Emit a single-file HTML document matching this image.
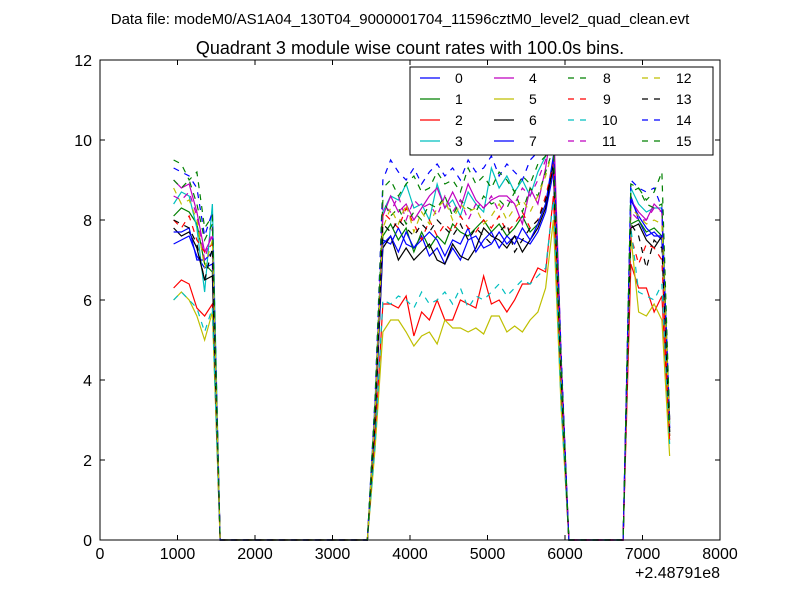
<!DOCTYPE html>
<html><head><meta charset="utf-8"><style>
body{margin:0;background:#fff;}
svg text{font-family:"Liberation Sans","DejaVu Sans",sans-serif;}
</style></head><body>
<svg id="chart" width="800" height="600" xmlns="http://www.w3.org/2000/svg">
<rect x="0" y="0" width="800" height="600" fill="#fff"/>
<text x="400" y="24" font-size="15" text-anchor="middle">Data file: modeM0/AS1A04_130T04_9000001704_11596cztM0_level2_quad_clean.evt</text>
<text x="410" y="54" font-size="18" text-anchor="middle">Quadrant 3 module wise count rates with 100.0s bins.</text>
<g id="series"></g>
<g id="axes"></g>
<text x="720" y="578" font-size="16" text-anchor="end">+2.48791e8</text>
<g id="legend"></g>
</svg>
<script>
const times = [950,1050,1150,1250,1350,1450,1550,1650,1750,1850,1950,2050,2150,2250,2350,2450,2550,2650,2750,2850,2950,3050,3150,3250,3350,3450,3550,3650,3750,3850,3950,4050,4150,4250,4350,4450,4550,4650,4750,4850,4950,5050,5150,5250,5350,5450,5550,5650,5750,5850,5950,6050,6150,6250,6350,6450,6550,6650,6750,6850,6950,7050,7150,7250,7350];
const seriesNames = ["0","1","2","3","4","5","6","7","8","9","10","11","12","13","14","15"];
const segA = [
[7.4,7.5,7.6,7.1,6.8,6.9],[8.1,8.3,8.2,7.9,6.9,6.7],[6.3,6.5,6.4,5.8,5.6,5.9],[8.4,8.7,8.6,7.8,6.2,8.4],
[9.0,8.8,8.9,8.2,7.2,7.6],[6.0,6.2,6.0,5.6,5.0,5.7],[7.8,7.6,7.7,7.3,6.5,6.6],[7.7,7.7,7.8,7.0,7.0,7.2],
[9.0,8.8,9.0,8.4,7.5,7.9],[8.0,7.8,8.1,7.5,7.2,7.4],[6.0,6.2,6.0,5.8,5.2,5.8],[8.6,8.5,8.7,8.1,7.0,7.8],
[8.8,8.4,8.5,8.0,6.8,7.5],[8.0,7.9,7.8,7.4,6.5,7.3],[9.3,9.2,9.1,8.8,7.6,8.2],[9.5,9.4,9.0,9.2,7.8,8.1]];
const gapA = [0,0,0,0,0,0,0,0,0,0,0,0,0,0,0,0,0,0,0,0];
const rise = [3.0,3.2,2.5,3.5,3.4,2.3,3.0,3.1,3.3,3.0,2.4,3.3,3.2,3.0,3.6,3.5];
const mid = [
[7.5,7.4,7.8,7.4,7.3,7.6,7.1,7.3,6.9,7.3,7.0,7.5,7.6,7.3,7.4,7.7,7.4,7.6,7.5,7.4,7.7,8.2,9.2],
[7.6,7.9,7.5,7.8,7.2,7.7,7.3,7.6,7.4,7.9,7.7,7.6,7.8,8.0,7.7,7.9,7.6,7.8,8.1,7.7,7.9,8.4,9.5],
[5.9,5.9,5.8,6.1,5.1,5.7,5.5,6.0,5.5,5.5,6.0,5.9,5.8,6.6,5.9,6.0,5.7,6.0,6.4,6.4,6.8,6.7,8.6],
[8.2,8.6,8.5,8.9,8.3,8.4,8.0,8.9,8.3,8.5,8.1,8.7,8.4,8.2,9.3,8.8,9.1,8.7,9.0,8.6,9.2,9.6,10.0],
[8.1,8.6,8.2,8.4,8.0,8.3,8.6,8.8,8.3,8.7,8.3,8.9,8.5,8.3,8.5,8.6,8.6,8.4,7.9,8.8,8.4,9.3,10.6],
[5.2,5.5,5.5,5.2,4.85,5.1,5.2,4.9,5.5,5.3,5.3,5.2,5.3,5.15,5.6,5.6,5.2,5.35,5.2,5.5,5.7,6.3,8.0],
[7.3,7.6,7.0,7.3,7.0,7.2,7.4,7.0,6.9,7.4,7.1,7.0,7.3,7.8,7.6,7.5,7.3,7.6,7.2,7.5,7.8,8.3,9.4],
[7.4,7.6,7.2,7.7,7.3,7.5,7.7,7.5,7.1,7.5,7.4,7.8,7.2,7.5,7.7,7.3,7.6,7.4,7.8,7.5,7.9,8.4,9.6],
[8.5,8.1,8.3,7.9,8.2,8.0,8.4,8.3,8.6,8.1,8.5,8.3,8.2,8.6,8.4,8.5,8.3,8.7,8.2,8.8,8.6,9.2,9.8],
[8.2,8.0,7.8,8.3,7.9,7.5,8.0,7.6,7.9,7.7,8.1,7.8,7.7,8.0,7.8,8.1,7.7,7.9,8.2,7.8,8.0,8.6,9.4],
[6.0,5.9,6.1,6.0,5.8,6.2,5.9,6.0,6.2,5.9,6.3,5.8,6.1,6.0,6.2,6.4,6.1,6.3,6.5,6.4,6.6,6.8,8.5],
[8.4,8.2,8.6,8.0,8.5,8.3,8.4,8.1,8.6,8.2,8.5,8.0,8.4,8.3,8.6,8.2,8.5,8.4,8.8,8.6,9.0,9.5,10.2],
[7.8,8.3,7.9,8.4,7.7,8.2,7.9,8.3,8.5,8.0,8.4,8.2,8.3,7.9,8.1,8.4,8.0,8.3,8.5,8.2,8.6,9.1,9.8],
[7.9,7.7,8.0,7.8,7.6,7.9,7.7,8.0,7.8,7.6,7.9,7.5,7.8,7.6,7.4,7.7,7.9,7.2,7.5,7.8,8.0,8.5,9.3],
[9.0,9.5,9.2,9.0,9.3,8.9,9.2,9.4,9.1,9.3,9.0,9.5,9.2,9.3,9.6,9.1,9.4,9.2,9.0,9.5,9.7,9.8,9.9],
[8.8,9.0,8.6,8.9,9.1,8.7,8.8,9.2,8.9,9.0,8.7,9.3,8.9,9.1,8.8,9.2,9.0,8.7,9.1,8.9,9.4,9.6,9.8]];
const fall = [4.0,4.2,3.5,4.5,4.6,3.3,4.0,4.1,4.3,4.1,3.4,4.4,4.3,4.1,4.7,4.5];
const gapB = [0,0,0,0,0,0,0,0];
const segC = [
[8.6,8.0,7.6,7.7,7.5],[7.9,8.0,7.7,7.8,7.6],[6.9,6.3,6.3,5.7,6.1],[8.8,8.4,8.2,8.3,8.3],
[8.5,8.2,8.0,8.4,8.2],[7.6,5.7,5.6,5.9,5.5],[7.8,7.9,7.5,7.3,7.6],[8.5,8.1,7.8,7.6,7.6],
[8.7,8.8,8.4,8.3,8.4],[7.6,6.9,7.4,7.3,7.0],[7.8,6.2,6.1,6.0,6.4],[8.2,8.0,8.0,8.3,8.2],
[8.3,8.1,7.9,8.0,7.9],[7.9,7.6,6.8,7.5,7.3],[9.0,8.8,8.7,8.8,8.3],[8.9,8.8,8.5,8.7,9.2]];
const last = [2.8,2.6,2.5,2.9,3.0,2.1,2.7,2.8,2.9,2.6,2.4,3.0,2.8,2.7,3.0,3.0];
const xTicks = [0,1000,2000,3000,4000,5000,6000,7000,8000];
const yTicks = [0,2,4,6,8,10,12];

const colors = ["#0000ff","#008000","#ff0000","#00bfbf","#bf00bf","#bfbf00","#000000"];
const NS="http://www.w3.org/2000/svg";
const L=100,R=720,T=60,B=540;
function xs(t){return L+(t-0)/(8000-0)*(R-L);}
function ys(v){return B-(v-0)/(12-0)*(B-T);}
function mk(tag,attrs,parent){const e=document.createElementNS(NS,tag);for(const k in attrs)e.setAttribute(k,attrs[k]);parent.appendChild(e);return e;}

const sg=document.getElementById('series');
for(let s=0;s<16;s++){
  const vals=[].concat(segA[s],gapA,[rise[s]],mid[s],[fall[s]],gapB,segC[s],[last[s]]);
  const d=vals.map((v,i)=>(i?'L':'M')+xs(times[i]).toFixed(2)+','+ys(v).toFixed(2)).join(' ');
  const p=mk('path',{d:d,fill:'none',stroke:colors[s%7],'stroke-width':1.2},sg);
  if(s>=8)p.setAttribute('stroke-dasharray','6,6');
  
  
}

const ax=document.getElementById('axes');
const frame=mk('rect',{x:L,y:T,width:R-L,height:B-T,fill:'none',stroke:'#000','stroke-width':1},ax);


xTicks.forEach(t=>{
  const x=xs(t);
  mk('line',{x1:x,y1:B,x2:x,y2:B-5,stroke:'#000'},ax);
  mk('line',{x1:x,y1:T,x2:x,y2:T+5,stroke:'#000'},ax);
  const tx=mk('text',{x:x,y:B+19,'font-size':16,'text-anchor':'middle'},ax);
  tx.textContent=t;
  
  
});
yTicks.forEach(v=>{
  const y=ys(v);
  mk('line',{x1:L,y1:y,x2:L+5,y2:y,stroke:'#000'},ax);
  mk('line',{x1:R,y1:y,x2:R-5,y2:y,stroke:'#000'},ax);
  const tx=mk('text',{x:L-8,y:y+6,'font-size':16,'text-anchor':'end'},ax);
  tx.textContent=v;
  
  
});

const lg=document.getElementById('legend');
const box=mk('rect',{x:410,y:67,width:303,height:88,fill:'#fff',stroke:'#000','stroke-width':1},lg);


for(let s=0;s<16;s++){
  const col=Math.floor(s/4),row=s%4;
  const x0=420+col*74,y0=78+row*21;
  const ln=mk('line',{x1:x0,y1:y0,x2:x0+20,y2:y0,stroke:colors[s%7],'stroke-width':1.2},lg);
  if(s>=8)ln.setAttribute('stroke-dasharray','6,6');
  
  
  const tx=mk('text',{x:x0+(s>=10?34:35),y:y0+5,'font-size':14},lg);
  tx.textContent=seriesNames[s];
  
  
}
</script>
</body></html>
